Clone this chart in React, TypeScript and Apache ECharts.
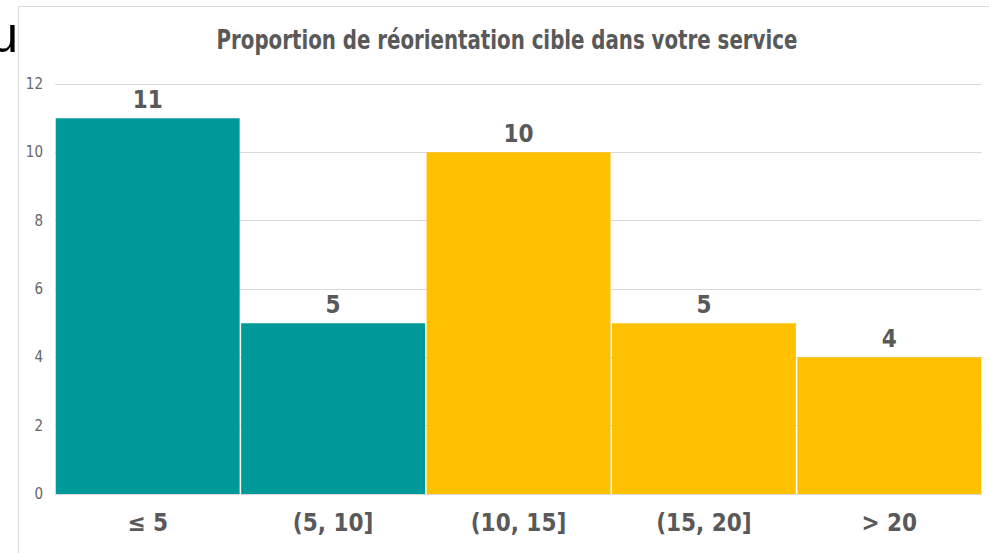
import React, { useEffect, useRef } from "react";
import * as echarts from "echarts";

const categories = ["≤ 5", "(5, 10]", "(10, 15]", "(15, 20]", "> 20"];
const counts = [11, 5, 10, 5, 4];
const barColors = ["#009999", "#009999", "#FFC000", "#FFC000", "#FFC000"];
const yTicks = { min: 0, max: 12, interval: 2 };
const titleText = "Proportion de réorientation cible dans votre service";

const FONT = "'DejaVu Sans Condensed', 'Liberation Sans Narrow', sans-serif";

export default function App() {
  const ref = useRef<HTMLDivElement>(null);
  useEffect(() => {
    if (!ref.current) return;
    const chart = echarts.init(ref.current, null, { renderer: "svg" });
    chart.setOption({
      animation: false,
      backgroundColor: "#ffffff",
      graphic: [
        {
          type: "rect",
          shape: { x: 18.5, y: 6.5, width: 1000, height: 700 },
          style: { fill: "none", stroke: "#d9d9d9", lineWidth: 1 },
          silent: true,
        },
        {
          type: "text",
          x: 18,
          y: 10,
          style: {
            text: "u",
            fontFamily: "'Liberation Sans', Arial, sans-serif",
            fontSize: 50,
            fill: "#000000",
            textAlign: "right",
            textVerticalAlign: "top",
          },
        },
        {
          type: "text",
          x: 507,
          y: 26,
          scaleX: 0.815,
          style: {
            text: titleText,
            fontFamily: FONT,
            fontSize: 27,
            fontWeight: "bold",
            fill: "#595959",
            textAlign: "center",
            textVerticalAlign: "top",
          },
        },
      ],
      grid: { left: 55, right: 7, top: 84, bottom: 59, containLabel: false },
      xAxis: {
        type: "category",
        data: categories,
        axisLine: { show: false },
        axisTick: { show: false },
        axisLabel: {
          fontFamily: FONT,
          fontSize: 24,
          fontWeight: "bold",
          color: "#595959",
          margin: 17,
        },
      },
      yAxis: {
        type: "value",
        min: yTicks.min,
        max: yTicks.max,
        interval: yTicks.interval,
        axisLine: { show: false },
        axisTick: { show: false },
        splitLine: { lineStyle: { color: "#d9d9d9", width: 1 } },
        axisLabel: { fontFamily: FONT, fontSize: 15, color: "#666666", margin: 12 },
      },
      series: [
        {
          type: "bar",
          data: counts.map((v, i) => ({ value: v, itemStyle: { color: barColors[i] } })),
          barCategoryGap: "0.8%",
          label: {
            show: true,
            position: "top",
            distance: 6,
            fontFamily: FONT,
            fontSize: 24,
            fontWeight: "bold",
            color: "#595959",
          },
        },
      ],
    });
    return () => chart.dispose();
  }, []);
  return (
    <div
      ref={ref}
      style={{ position: "fixed", left: 0, top: 0, width: 989, height: 553 }}
    />
  );
}
